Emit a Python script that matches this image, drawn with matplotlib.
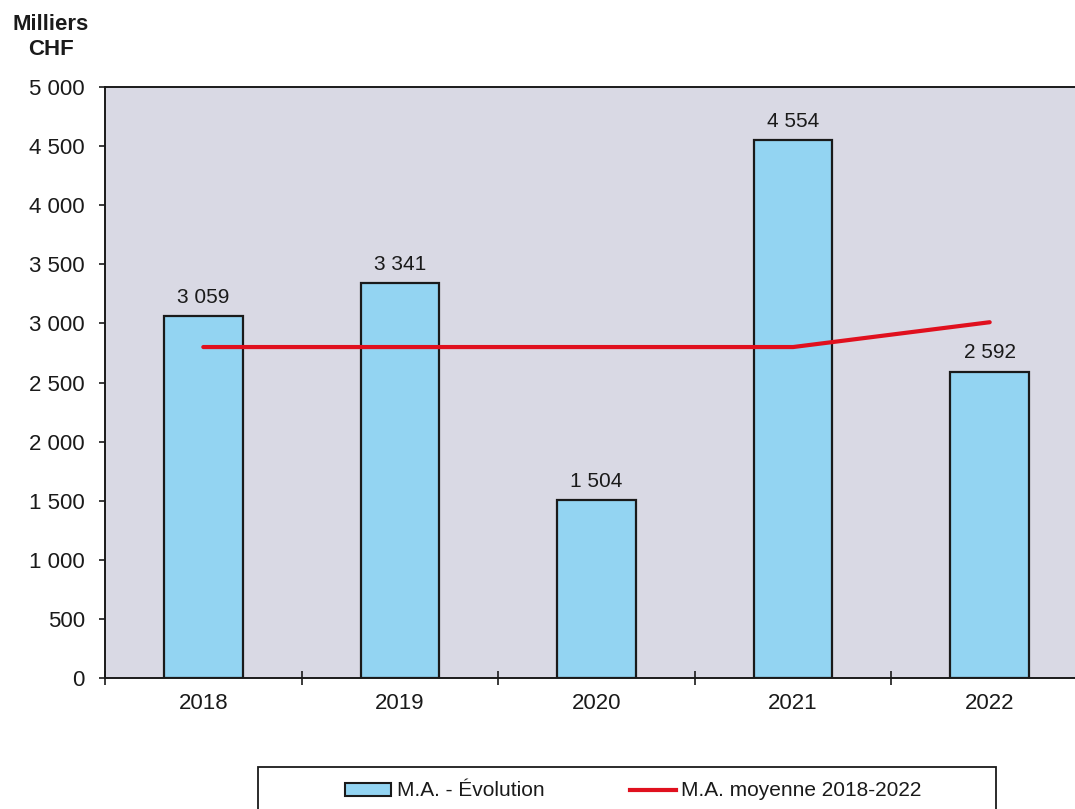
import matplotlib
matplotlib.use("Agg")
import matplotlib.pyplot as plt
from matplotlib.patches import Patch, Rectangle
from matplotlib.lines import Line2D
from matplotlib.ticker import FuncFormatter, FixedLocator

plt.rcParams['font.family'] = ['Liberation Sans', 'DejaVu Sans']

years = ["2018", "2019", "2020", "2021", "2022"]
evolution = [3059, 3341, 1504, 4554, 2592]
moyenne = [2800, 2800, 2800, 2800, 3010]
value_labels = ["3 059", "3 341", "1 504", "4 554", "2 592"]
series_names = ["M.A. - Évolution", "M.A. moyenne 2018-2022"]

bar_color = "#93d4f2"
line_color = "#e0101e"
plot_bg = "#d9d9e4"
ink = "#1a1a1a"

W, H = 1075, 809
fig = plt.figure(figsize=(W / 100, H / 100), dpi=100)
left, right, top, bottom = 105, 1088, 87, 678
ax = fig.add_axes([left / W, 1 - bottom / H, (right - left) / W, (bottom - top) / H])
ax.set_facecolor(plot_bg)

x = list(range(len(years)))
ax.bar(x, evolution, width=0.40, color=bar_color, edgecolor=ink, linewidth=1.6, zorder=2)
ax.plot(x, moyenne, color=line_color, linewidth=3, solid_capstyle="round", zorder=3)

for xi, v, lab in zip(x, evolution, value_labels):
    ax.annotate(lab, (xi, v), xytext=(0, 9.5), textcoords="offset points",
                ha="center", va="baseline", fontsize=15, color=ink)

ax.set_xlim(-0.5, 4.5)
ax.set_ylim(0, 5000)
ax.set_yticks(range(0, 5001, 500))
ax.yaxis.set_major_formatter(FuncFormatter(lambda v, p: f"{int(v):,}".replace(",", " ")))

# category boundaries carry the tick marks, category centres carry the labels
ax.xaxis.set_major_locator(FixedLocator([-0.5, 0.5, 1.5, 2.5, 3.5, 4.5]))
ax.xaxis.set_major_formatter(FuncFormatter(lambda v, p: ""))
ax.set_xticks(x, minor=True)
ax.set_xticklabels(years, minor=True)
ax.tick_params(axis="x", which="major", direction="inout", length=10, width=1.2, color=ink)
ax.tick_params(axis="x", which="minor", length=0, pad=11, labelsize=16, labelcolor=ink)
ax.tick_params(axis="y", direction="out", length=4.5, width=1.2, color=ink,
               labelsize=16, pad=10, labelcolor=ink)

for s in ["left", "bottom", "top"]:
    ax.spines[s].set_color(ink)
    ax.spines[s].set_linewidth(1.4)
ax.spines["right"].set_visible(False)

fig.text(51 / W, 1 - 24 / H, "Milliers", ha="center", va="center",
         fontsize=16, fontweight="bold", color=ink)
fig.text(51 / W, 1 - 49.5 / H, "CHF", ha="center", va="center",
         fontsize=16, fontweight="bold", color=ink)

# legend frame runs past the bottom edge of the figure
fig.patches.append(Rectangle((258 / W, -0.05), (996 - 258) / W, 0.05 + 1 - 767 / H,
                             transform=fig.transFigure, fill=False, edgecolor=ink,
                             linewidth=1.3, clip_on=False))
handles = [Patch(facecolor=bar_color, edgecolor=ink, linewidth=1.5),
           Line2D([0], [0], color=line_color, linewidth=3)]
fig.legend(handles, series_names, loc="center left",
           bbox_to_anchor=(345 / W, 1 - 791 / H), ncol=2, frameon=False, fontsize=15,
           handlelength=2.2, handleheight=0.6, handletextpad=0.28, borderaxespad=0,
           borderpad=0, columnspacing=4.1, labelcolor=ink)

fig.savefig("out.png", dpi=100)
